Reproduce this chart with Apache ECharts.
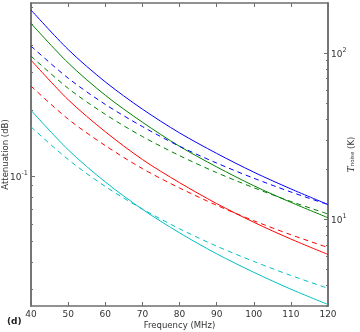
<!DOCTYPE html>
<html>
<head>
<meta charset="utf-8">
<script src="https://cdn.jsdelivr.net/npm/echarts@6/dist/echarts.min.js"></script>
<style>
  html, body { margin: 0; padding: 0; background: #fff; }
  #chart { width: 360px; height: 332px; }
</style>
</head>
<body>
<div id="chart"></div>
<script>
// frequency samples (MHz)
const freqs = [40, 50, 60, 70, 80, 90, 100, 110, 120]

// solid curves (attenuation, dB)
const blueSolid  = [0.585, 0.384, 0.272, 0.2035, 0.158, 0.127, 0.104, 0.087, 0.0737]
const greenSolid = [0.507, 0.333, 0.236, 0.177, 0.137, 0.110, 0.090, 0.0754, 0.0640]
const redSolid   = [0.343, 0.225, 0.160, 0.119, 0.093, 0.0744, 0.0610, 0.0510, 0.0433]
const cyanSolid  = [0.201, 0.132, 0.0937, 0.0700, 0.0545, 0.0436, 0.0358, 0.0299, 0.0254]

// dashed curves
const blueDash  = [0.398, 0.283, 0.214, 0.169, 0.137, 0.1146, 0.0975, 0.0842, 0.0736]
const greenDash = [0.358, 0.254, 0.1925, 0.152, 0.124, 0.1035, 0.0881, 0.0761, 0.0666]
const redDash   = [0.260, 0.183, 0.138, 0.108, 0.0879, 0.0731, 0.0620, 0.0534, 0.0466]
const cyanDash  = [0.1685, 0.119, 0.0893, 0.0702, 0.0569, 0.0473, 0.0402, 0.0346, 0.0302]

// axis ticks
const leftMajor  = [0.1]
const leftMinor  = [0.03, 0.04, 0.05, 0.06, 0.07, 0.08, 0.09, 0.2, 0.3, 0.4, 0.5, 0.6]
const rightMajor = [10, 100]
const rightMinor = [3, 4, 5, 6, 7, 8, 9, 20, 30, 40, 50, 60, 70, 80, 90]

const AXIS = '#6e6e6e'
const TXT = '#333'
const FONT = 'DejaVu Sans'

const pow10 = v => {
  const e = Math.round(Math.log10(v))
  return `{b|10}{s|${e}}`
}
const powRich = {
  b: { fontSize: 9, fontFamily: FONT, color: TXT, verticalAlign: 'bottom' },
  s: { fontSize: 6.5, fontFamily: FONT, color: TXT, verticalAlign: 'top', padding: [0, 0, 6, 0] }
}

const line = (data, color, dashed) => ({
  type: 'line',
  xAxisIndex: 0,
  yAxisIndex: 0,
  smooth: 0.3,
  symbol: 'none',
  silent: true,
  data: freqs.map((f, i) => [f, data[i]]),
  lineStyle: { color, width: 1, type: dashed ? [5, 4] : 'solid' }
})

const logY = (pos, min, max, extra) => Object.assign({
  type: 'log',
  logBase: 10,
  position: pos,
  min, max,
  nameMoveOverlap: false,
  splitLine: { show: false },
  axisLine: { show: true, lineStyle: { color: AXIS, width: 1.5 } },
  axisLabel: { show: false },
  axisTick: { show: false }
}, extra)

const c = echarts.init(document.getElementById('chart'))
c.setOption({
  animation: false,
  grid: { left: 31, right: 32, top: 3, bottom: 26, containLabel: false, outerBoundsMode: 'none' },
  xAxis: [
    {
      type: 'value', position: 'bottom', min: 40, max: 120, interval: 10,
      name: 'Frequency (MHz)', nameLocation: 'middle', nameGap: 15, nameMoveOverlap: false,
      nameTextStyle: { fontSize: 8.5, fontFamily: FONT, color: TXT },
      splitLine: { show: false },
      axisLine: { lineStyle: { color: AXIS, width: 1.5 } },
      axisTick: { inside: true, length: 4, lineStyle: { color: AXIS } },
      axisLabel: { fontSize: 9, fontFamily: FONT, color: TXT, margin: 4 }
    },
    {
      type: 'value', position: 'top', min: 40, max: 120, interval: 10,
      splitLine: { show: false },
      axisLine: { lineStyle: { color: AXIS, width: 1.5 } },
      axisTick: { inside: true, length: 4, lineStyle: { color: AXIS } },
      axisLabel: { show: false }
    }
  ],
  yAxis: [
    logY('left', 0.025, 0.63, {
      name: 'Attenuation (dB)', nameLocation: 'middle', nameGap: 21, nameRotate: 90,
      nameTextStyle: { fontSize: 8.5, fontFamily: FONT, color: TXT },
      axisTick: { show: true, inside: true, length: 4, customValues: leftMajor, lineStyle: { color: AXIS } },
      axisLabel: { show: true, customValues: leftMajor, formatter: pow10, rich: powRich, margin: 3 }
    }),
    logY('left', 0.025, 0.63, {
      axisTick: { show: true, inside: true, length: 2, customValues: leftMinor, lineStyle: { color: AXIS } }
    }),
    logY('right', 3, 200, {
      name: '{t|T}{n|noise}{k| (K)}', nameLocation: 'middle', nameGap: 19, nameRotate: 90,
      nameTextStyle: {
        rich: {
          t: { fontSize: 9, fontFamily: 'DejaVu Serif', fontStyle: 'italic', color: TXT },
          n: { fontSize: 5.5, fontFamily: FONT, color: TXT, verticalAlign: 'bottom' },
          k: { fontSize: 8.5, fontFamily: FONT, color: TXT }
        }
      },
      axisTick: { show: true, inside: true, length: 4, customValues: rightMajor, lineStyle: { color: AXIS } },
      axisLabel: { show: true, customValues: rightMajor, formatter: pow10, rich: powRich, margin: 3 }
    }),
    logY('right', 3, 200, {
      axisTick: { show: true, inside: true, length: 2, customValues: rightMinor, lineStyle: { color: AXIS } }
    })
  ],
  graphic: [{
    type: 'text', left: 7, top: 317,
    style: { text: '(d)', fontSize: 9, fontWeight: 'bold', fontFamily: FONT, fill: '#222' }
  }],
  series: [
    line(blueSolid, '#0000ff', false),
    line(greenSolid, '#008000', false),
    line(redSolid, '#ff0000', false),
    line(cyanSolid, '#00bfbf', false),
    line(blueDash, '#0000ff', true),
    line(greenDash, '#008000', true),
    line(redDash, '#ff0000', true),
    line(cyanDash, '#00bfbf', true)
  ]
})
</script>
</body>
</html>
